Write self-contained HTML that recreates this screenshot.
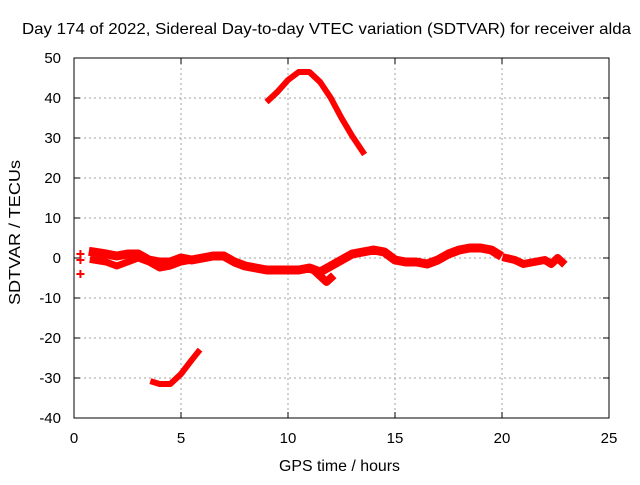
<!DOCTYPE html>
<html><head><meta charset="utf-8"><style>
body{margin:0;background:#fff}
svg{font-family:"Liberation Sans",sans-serif;font-size:15px}
</style></head><body>
<svg id="chart" width="640" height="480">
<text x="22" y="34" textLength="609" lengthAdjust="spacingAndGlyphs" style="font-size:16px">Day 174 of 2022, Sidereal Day-to-day VTEC variation (SDTVAR) for receiver alda</text>
<g id="grid"></g>
<g id="ticks"></g>
<g id="marks"></g>
<rect x="74" y="58" width="535" height="360" fill="none" stroke="#000"/>
<text x="279" y="471" textLength="121" lengthAdjust="spacingAndGlyphs" style="font-size:16px">GPS time / hours</text>
<text transform="translate(20,305) rotate(-90)" textLength="145" lengthAdjust="spacingAndGlyphs" style="font-size:16px">SDTVAR / TECUs</text>
</svg>
<script>
const xTicks=[0,5,10,15,20,25];
const yTicks=[50,40,30,20,10,0,-10,-20,-30,-40];
const mainUpper=[[0.9,1.5],[1.5,1],[2,0.5],[2.5,1],[3,1],[3.5,-0.5],[4,-1],[4.5,-1],[5,0],[5.5,-0.5],[6,0],[6.5,0.5],[7,0.5],[7.5,-1],[8,-2],[8.5,-2.5],[9,-3],[10,-3],[10.5,-3],[11,-2.5],[11.5,-3.5],[12,-2],[12.5,-0.5],[13,1],[13.5,1.5],[14,2],[14.5,1.5],[15,-0.5],[15.5,-1],[16,-1],[16.5,-1.5],[17,-0.5],[17.5,1],[18,2],[18.5,2.5],[19,2.5],[19.5,2],[19.8,1]];
const mainLower=[[0.9,-0.5],[1.5,-1],[2,-2],[2.5,-1],[3,0],[3.5,-1],[4,-2.5],[4.5,-2],[5,-1],[5.5,-0.5],[6,0]];
const dip=[[11.2,-3],[11.6,-5],[11.8,-6],[12,-5]];
const tail=[[20.2,0],[20.6,-0.5],[21,-1.5],[21.5,-1],[22,-0.5],[22.3,-1.5],[22.6,0],[22.8,-1]];
const upperArc=[[9.1,39.5],[9.5,41.5],[10,44.5],[10.5,46.5],[11,46.5],[11.5,44],[12,40],[12.5,35],[13,30.5],[13.5,26.5]];
const lowerArc=[[3.7,-31],[4,-31.5],[4.5,-31.5],[5,-29],[5.5,-25.5],[5.8,-23.5]];
const isolated=[[0.3,1],[0.3,-0.5],[0.3,-4]];
const X=v=>74+v*535/25, Y=v=>258-v*4;
const NS="http://www.w3.org/2000/svg";
function mk(tag,attrs,parent){const e=document.createElementNS(NS,tag);for(const k in attrs)e.setAttribute(k,attrs[k]);parent.appendChild(e);return e;}
const grid=document.getElementById('grid'),ticks=document.getElementById('ticks'),marks=document.getElementById('marks');
xTicks.forEach(t=>{
 if(t>0&&t<25){const l=mk('line',{x1:X(t),x2:X(t),y1:58,y2:418,stroke:'#a0a0a0','stroke-dasharray':'2,3'},grid);
 
 }
 mk('line',{x1:X(t),x2:X(t),y1:418,y2:412,stroke:'#000'},ticks);
 mk('line',{x1:X(t),x2:X(t),y1:58,y2:64,stroke:'#000'},ticks);
 const tx=mk('text',{x:X(t),y:443,'text-anchor':'middle'},ticks);tx.textContent=t;
 
 
});
yTicks.forEach(t=>{
 if(t<50&&t>-40){const l=mk('line',{x1:74,x2:609,y1:Y(t),y2:Y(t),stroke:'#a0a0a0','stroke-dasharray':'2,3'},grid);
 
 }
 mk('line',{x1:74,x2:80,y1:Y(t),y2:Y(t),stroke:'#000'},ticks);
 mk('line',{x1:609,x2:603,y1:Y(t),y2:Y(t),stroke:'#000'},ticks);
 const tx=mk('text',{x:61,y:Y(t)+5,'text-anchor':'end'},ticks);tx.textContent=t;
 
 
});
function trace(pts,w,name){
 const p=mk('polyline',{points:pts.map(d=>X(d[0])+','+Y(d[1])).join(' '),fill:'none',stroke:'#f00','stroke-width':w,'stroke-linejoin':'round','stroke-linecap':'square'},marks);
 
 
}
trace(mainUpper,9,'main-band-upper');
trace(mainLower,7,'main-band-lower');
trace(dip,8,'dip-near-12h');
trace(tail,8,'late-segment');
trace(upperArc,6,'upper-arc');
trace(lowerArc,6,'lower-arc');
isolated.forEach(d=>{
 const g=mk('path',{d:`M${X(d[0])-4},${Y(d[1])}h8M${X(d[0])},${Y(d[1])-4}v8`,stroke:'#f00','stroke-width':2},marks);
 
 
});
</script>
</body></html>
